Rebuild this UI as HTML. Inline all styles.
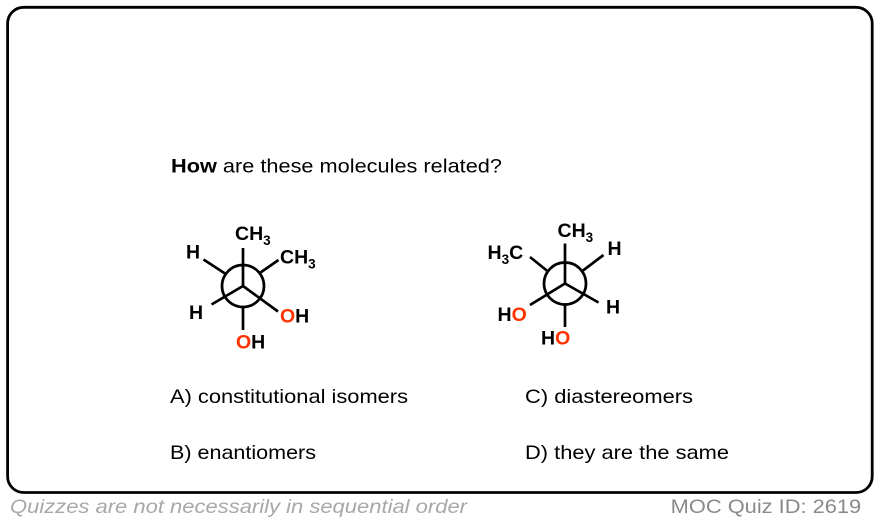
<!DOCTYPE html>
<html>
<head>
<meta charset="utf-8">
<style>
  html, body { margin:0; padding:0; background:#ffffff; }
  body { width:882px; height:526px; overflow:hidden; }
  svg { display:block; }
  .t { font-family:"Liberation Sans", Arial, sans-serif; fill:#000; }
  .lb { font-family:"Liberation Sans", Arial, sans-serif; font-weight:bold; font-size:19.5px; fill:#000; }
  .red { fill:#ff3300; }
</style>
</head>
<body>
<svg width="882" height="526" viewBox="0 0 882 526" xmlns="http://www.w3.org/2000/svg">
  <!-- frame -->
  <rect x="7.6" y="7.3" width="864.6" height="485.2" rx="16" ry="16" fill="#fff" stroke="#000" stroke-width="2.8"/>

  <!-- question -->
  <text class="t" x="171" y="172.5" font-size="19.5" textLength="331" lengthAdjust="spacingAndGlyphs"><tspan font-weight="bold">How</tspan> are these molecules related?</text>

  <!-- Left Newman projection -->
  <g stroke="#000" stroke-width="2.7" fill="none" stroke-linecap="butt">
    <circle cx="243" cy="286" r="21"/>
    <!-- front bonds -->
    <line x1="243" y1="286" x2="243" y2="248"/>
    <line x1="243" y1="286" x2="211.5" y2="304.5"/>
    <line x1="243" y1="286" x2="278" y2="311.5"/>
    <!-- back bonds -->
    <line x1="225" y1="273.5" x2="203.5" y2="259.5"/>
    <line x1="260.5" y1="272.5" x2="278.5" y2="260"/>
    <line x1="243" y1="307" x2="243" y2="330"/>
  </g>
  <text class="lb" x="235" y="240">CH<tspan font-size="13.5" dy="5">3</tspan></text>
  <text class="lb" x="280" y="263.5">CH<tspan font-size="13.5" dy="5">3</tspan></text>
  <text class="lb" x="186" y="258.5">H</text>
  <text class="lb" x="189" y="319">H</text>
  <text class="lb" x="280" y="322.5"><tspan class="red">O</tspan>H</text>
  <text class="lb" x="236" y="348.5"><tspan class="red">O</tspan>H</text>

  <!-- Right Newman projection -->
  <g stroke="#000" stroke-width="2.7" fill="none" stroke-linecap="butt">
    <circle cx="565" cy="283.5" r="21"/>
    <!-- front bonds -->
    <line x1="565" y1="283.5" x2="565" y2="243.5"/>
    <line x1="565" y1="283.5" x2="530" y2="305"/>
    <line x1="565" y1="283.5" x2="598.5" y2="302.5"/>
    <!-- back bonds -->
    <line x1="548" y1="271.5" x2="530" y2="257"/>
    <line x1="583" y1="270.5" x2="603.5" y2="255"/>
    <line x1="565" y1="304.5" x2="565" y2="327"/>
  </g>
  <text class="lb" x="557.5" y="236.8">CH<tspan font-size="13.5" dy="5">3</tspan></text>
  <text class="lb" x="487.5" y="259">H<tspan font-size="13.5" dy="5">3</tspan><tspan dy="-5">C</tspan></text>
  <text class="lb" x="607.5" y="255">H</text>
  <text class="lb" x="606" y="313.5">H</text>
  <text class="lb" x="497.5" y="321">H<tspan class="red">O</tspan></text>
  <text class="lb" x="541" y="344.5">H<tspan class="red">O</tspan></text>

  <!-- answers -->
  <text class="t" x="170" y="403" font-size="19.5" textLength="238" lengthAdjust="spacingAndGlyphs">A) constitutional isomers</text>
  <text class="t" x="525" y="403" font-size="19.5" textLength="168" lengthAdjust="spacingAndGlyphs">C) diastereomers</text>
  <text class="t" x="170" y="459" font-size="19.5" textLength="146" lengthAdjust="spacingAndGlyphs">B) enantiomers</text>
  <text class="t" x="525" y="459" font-size="19.5" textLength="204" lengthAdjust="spacingAndGlyphs">D) they are the same</text>

  <!-- footer -->
  <text x="10" y="513" font-family="Liberation Sans, Arial, sans-serif" font-style="italic" font-size="19.5" fill="#a8a8a8" textLength="457" lengthAdjust="spacingAndGlyphs">Quizzes are not necessarily in sequential order</text>
  <text x="670.7" y="513" font-family="Liberation Sans, Arial, sans-serif" font-size="19.5" fill="#8a8a8a" textLength="190.5" lengthAdjust="spacingAndGlyphs">MOC Quiz ID: 2619</text>
</svg>
</body>
</html>
